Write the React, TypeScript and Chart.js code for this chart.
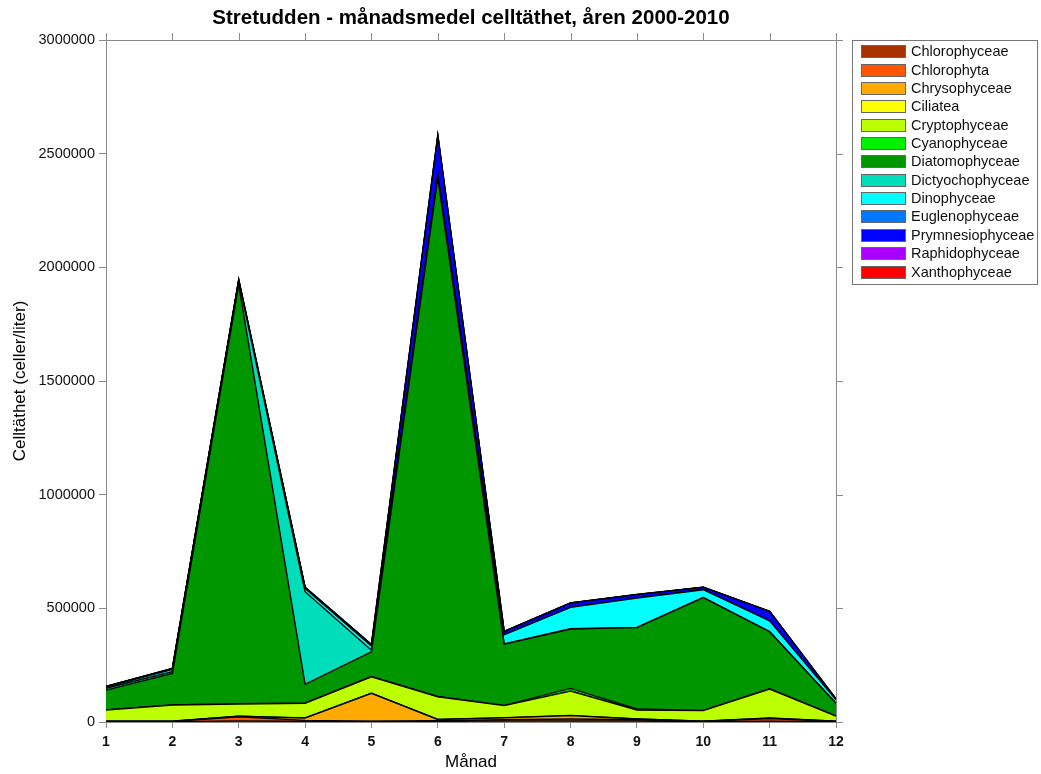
import React, { useEffect, useRef } from 'react';
import { Chart, registerables } from 'chart.js';
Chart.register(...registerables);

const months = ['1', '2', '3', '4', '5', '6', '7', '8', '9', '10', '11', '12'];
const yTicks = [0, 500000, 1000000, 1500000, 2000000, 2500000, 3000000];

const seriesNames = [
  'Chlorophyceae', 'Chlorophyta', 'Chrysophyceae', 'Ciliatea', 'Cryptophyceae', 'Cyanophyceae',
  'Diatomophyceae', 'Dictyochophyceae', 'Dinophyceae', 'Euglenophyceae', 'Prymnesiophyceae',
  'Raphidophyceae', 'Xanthophyceae',
];
const seriesColors = [
  '#A83200', '#FF5500', '#FFAA00', '#FFFF00', '#BBFF00', '#00F000',
  '#009600', '#00DDBB', '#00FFFF', '#0077FF', '#0000FF', '#AA00FF', '#FF0000',
];

const chlorophyceae = [1000, 1000, 5000, 3000, 2000, 3000, 5000, 5000, 5000, 1000, 3000, 1000];
const chlorophyta = [1000, 1000, 18000, 4000, 2000, 3000, 5000, 8000, 5000, 1000, 12000, 1000];
const chrysophyceae = [1000, 1000, 2000, 10000, 122000, 5000, 8000, 15000, 3000, 1000, 2000, 1000];
const ciliatea = [500, 500, 500, 500, 500, 500, 500, 1000, 500, 500, 500, 500];
const cryptophyceae = [49000, 71000, 53500, 64500, 72500, 99500, 53500, 107000, 39500, 46500, 127500, 22500];
const cyanophyceae = [1000, 1000, 1000, 2000, 1000, 1000, 1000, 12000, 4000, 1000, 1000, 1000];
const diatomophyceae = [87000, 138000, 1845000, 82000, 109000, 2283000, 269000, 261000, 358000, 496000, 251000, 55000];
const dictyochophyceae = [8000, 8000, 12000, 407000, 7000, 2000, 1000, 1000, 1000, 1000, 1000, 1000];
const dinophyceae = [5000, 10000, 3000, 15000, 18000, 8000, 41000, 94000, 129000, 34000, 47000, 15000];
const euglenophyceae = [500, 500, 500, 500, 500, 500, 500, 500, 500, 500, 500, 500];
const prymnesiophyceae = [2000, 3000, 5000, 4000, 6000, 175000, 14000, 19000, 15000, 10000, 41000, 3000];
const raphidophyceae = [500, 500, 500, 500, 500, 500, 500, 500, 500, 500, 500, 500];
const xanthophyceae = [0, 0, 0, 0, 0, 0, 0, 0, 0, 0, 0, 0];

const seriesValues = [
  chlorophyceae, chlorophyta, chrysophyceae, ciliatea, cryptophyceae, cyanophyceae,
  diatomophyceae, dictyochophyceae, dinophyceae, euglenophyceae, prymnesiophyceae,
  raphidophyceae, xanthophyceae,
];

const FONT = '"Liberation Sans", Arial, sans-serif';
const AXIS = '#8a8a8a';

const decorPlugin = {
  id: 'decor',
  afterDraw(chart: any) {
    const { ctx, chartArea } = chart;
    const { left, right, top, bottom } = chartArea;
    const xs = chart.scales.x;
    const ys = chart.scales.y;
    ctx.save();
    ctx.strokeStyle = AXIS;
    ctx.lineWidth = 1;
    ctx.beginPath();
    ctx.moveTo(left, top + 0.5);
    ctx.lineTo(right, top + 0.5);
    ctx.moveTo(right + 0.5, top);
    ctx.lineTo(right + 0.5, bottom);
    yTicks.forEach((v) => {
      const y = Math.round(ys.getPixelForValue(v)) + 0.5;
      ctx.moveTo(right, y);
      ctx.lineTo(right + 7, y);
    });
    months.forEach((_, i) => {
      const x = Math.round(xs.getPixelForValue(i)) + 0.5;
      ctx.moveTo(x, top);
      ctx.lineTo(x, top - 7);
    });
    ctx.stroke();

    ctx.fillStyle = '#000';
    ctx.font = `bold 20.5px ${FONT}`;
    ctx.textAlign = 'center';
    ctx.textBaseline = 'middle';
    ctx.fillText('Stretudden - månadsmedel celltäthet, åren 2000-2010', (left + right) / 2, 18);

    ctx.font = `17px ${FONT}`;
    ctx.fillText('Månad', (left + right) / 2, 762);

    ctx.save();
    ctx.translate(20, (top + bottom) / 2);
    ctx.rotate(-Math.PI / 2);
    ctx.fillText('Celltäthet (celler/liter)', 0, 0);
    ctx.restore();

    const lx = 852, ly = 40, lw = 185, lh = 244;
    ctx.strokeStyle = '#777';
    ctx.strokeRect(lx + 0.5, ly + 0.5, lw, lh);
    ctx.font = `14.5px ${FONT}`;
    ctx.textAlign = 'left';
    seriesNames.forEach((name, i) => {
      const cy = 51.7 + i * 18.36;
      ctx.fillStyle = seriesColors[i];
      ctx.fillRect(861, Math.round(cy - 6.5), 45, 13);
      ctx.strokeStyle = '#666';
      ctx.strokeRect(861.5, Math.round(cy - 6.5) + 0.5, 44, 12);
      ctx.fillStyle = '#111';
      ctx.fillText(name, 911, cy + 0.5);
    });
    ctx.restore();
  },
};

export default function App() {
  const ref = useRef<HTMLCanvasElement>(null);
  useEffect(() => {
    const canvas = ref.current!;
    const chart = new Chart(canvas, {
      type: 'line',
      data: {
        labels: months,
        datasets: seriesNames.map((name, i) => ({
          label: name,
          data: seriesValues[i],
          backgroundColor: seriesColors[i],
          borderColor: '#000',
          borderWidth: 1.4,
          fill: i === 0 ? 'origin' : '-1',
          pointRadius: 0,
          tension: 0,
        })),
      },
      options: {
        responsive: false,
        animation: false,
        layout: { padding: { top: 40, right: 205, left: 0, bottom: 0 } },
        plugins: {
          legend: { display: false },
          title: { display: false },
          tooltip: { enabled: false },
        },
        scales: {
          x: {
            offset: false,
            grid: { display: true, drawOnChartArea: false, tickLength: 6, color: AXIS },
            border: { color: AXIS },
            ticks: { font: { family: FONT, size: 14, weight: 'bold' }, color: '#111', padding: 6, maxRotation: 0, autoSkip: false },
            afterFit: (s: any) => { s.height = 52; },
          },
          y: {
            stacked: true,
            min: 0,
            max: 3000000,
            grid: { display: true, drawOnChartArea: false, tickLength: 7, color: AXIS },
            border: { color: AXIS },
            ticks: {
              stepSize: 500000,
              font: { family: FONT, size: 14.5 },
              color: '#111',
              padding: 4,
              callback: (v: any) => String(v),
            },
            afterFit: (s: any) => { s.width = 106; },
          },
        },
      } as any,
      plugins: [decorPlugin],
    });
    return () => chart.destroy();
  }, []);
  return (
    <div style={{ position: 'absolute', left: 0, top: 0, width: 1041, height: 774, background: '#fff' }}>
      <canvas ref={ref} width={1041} height={774} style={{ display: 'block' }} />
    </div>
  );
}
